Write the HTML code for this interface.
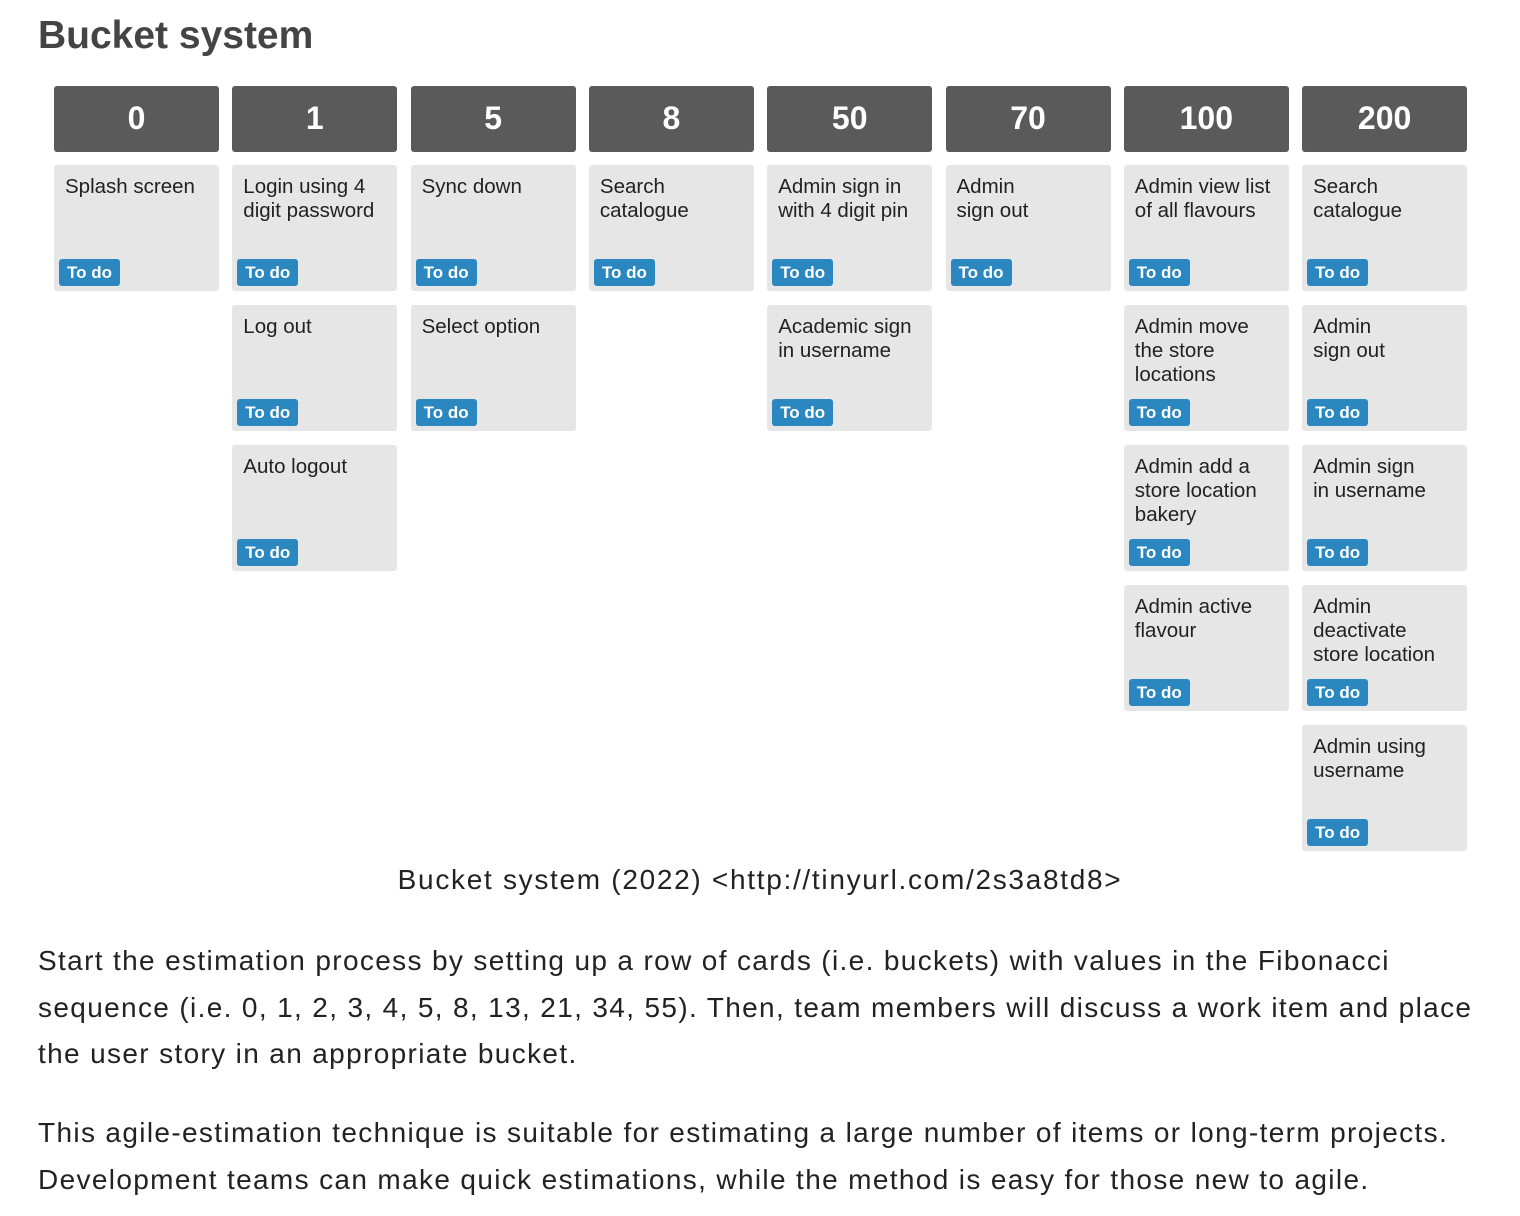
<!DOCTYPE html>
<html><head><meta charset="utf-8">
<style>
body{margin:0;width:1520px;height:1216px;background:#fff;font-family:"Liberation Sans",sans-serif;color:#222;position:relative;overflow:hidden}
#title{position:absolute;left:38px;top:14px;font-size:39px;font-weight:bold;color:#444;margin:0}
.hdr{position:absolute;width:165px;height:66px;background:#5a5a5a;border-radius:3px;color:#fff;font-weight:bold;font-size:32px;text-align:center;line-height:64px}
.card{position:absolute;width:165px;height:126px;background:#e6e6e6;border-radius:3px}
.card .t{position:absolute;left:11px;top:10px;font-size:20.5px;line-height:24px;color:#222}
.card .b{position:absolute;left:5px;top:94px;width:61px;height:27px;background:#2a87c0;border-radius:3px;color:#fff;font-weight:bold;font-size:17px;line-height:27px;text-align:center}
#cap{position:absolute;left:0;width:1520px;text-align:center;top:864px;font-size:28px;letter-spacing:1.7px;color:#222}
.p{position:absolute;left:38px;width:1470px;font-size:28px;letter-spacing:1.35px;line-height:46.5px;color:#222;margin:0;white-space:nowrap}
</style></head><body>
<h1 id="title">Bucket system</h1>
<div id="board"></div>
<div id="cap">Bucket system (2022) &lt;http://tinyurl.com/2s3a8td8&gt;</div>
<p class="p" style="top:938px">Start the estimation process by setting up a row of cards (i.e. buckets) with values in the Fibonacci<br>sequence (i.e. 0, 1, 2, 3, 4, 5, 8, 13, 21, 34, 55). Then, team members will discuss a work item and place<br>the user story in an appropriate bucket.</p>
<p class="p" style="top:1110px">This agile-estimation technique is suitable for estimating a large number of items or long-term projects.<br>Development teams can make quick estimations, while the method is easy for those new to agile.</p>
<script>
const buckets=["0","1","5","8","50","70","100","200"];
const stories=[
 ["Splash screen"],
 ["Login using 4<br>digit password","Log out","Auto logout"],
 ["Sync down","Select option"],
 ["Search<br>catalogue"],
 ["Admin sign in<br>with 4 digit pin","Academic sign<br>in username"],
 ["Admin<br>sign out"],
 ["Admin view list<br>of all flavours","Admin move<br>the store<br>locations","Admin add a<br>store location<br>bakery","Admin active<br>flavour"],
 ["Search<br>catalogue","Admin<br>sign out","Admin sign<br>in username","Admin<br>deactivate<br>store location","Admin using<br>username"]
];
const board=document.getElementById('board');
buckets.forEach((b,i)=>{
 const x=54+i*178.3;
 const h=document.createElement('div');h.className='hdr';
 h.style.left=x+'px';h.style.top='86px';h.textContent=b;
 
 
 board.appendChild(h);
 stories[i].forEach((s,j)=>{
  const c=document.createElement('div');c.className='card';
  c.style.left=x+'px';c.style.top=(165+j*140)+'px';
  
  
  c.innerHTML='<div class="t">'+s+'</div>';
  const bd=document.createElement('div');bd.className='b';bd.textContent='To do';
  
  
  c.appendChild(bd);
  board.appendChild(c);
 });
});
</script>
</body></html>
